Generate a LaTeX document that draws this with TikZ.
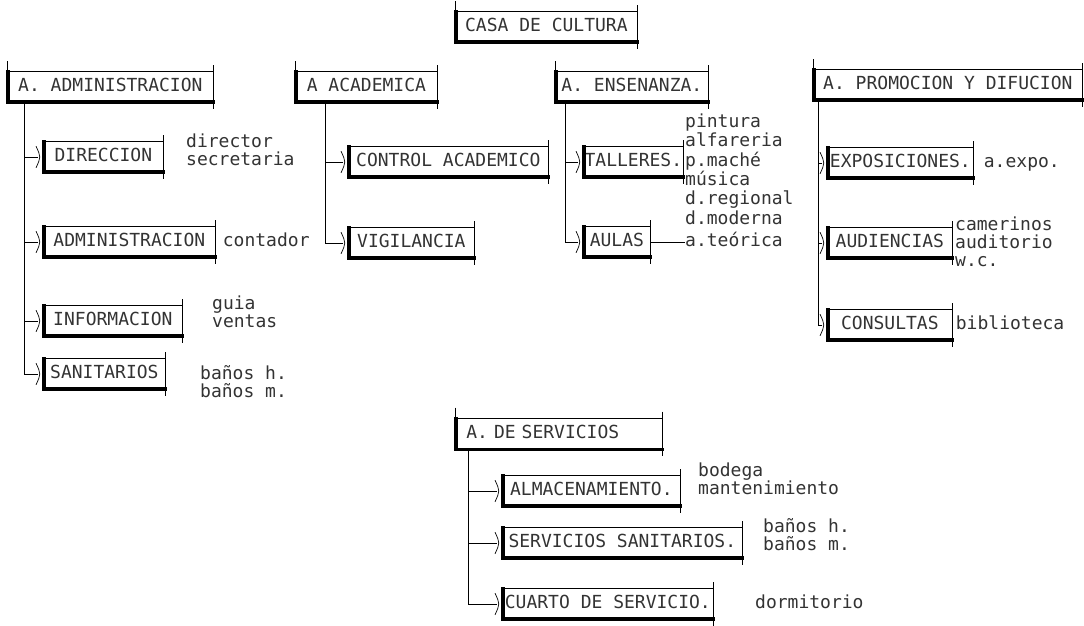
\documentclass[tikz,border=0pt]{standalone}
\usepackage{fontspec}
\newfontfamily\matriz{DejaVu Sans Mono}
\usetikzlibrary{positioning}

\tikzset{
  fino/.style={line width=0.7pt},
  grueso/.style={line width=3.5pt, line cap=rect},
  letra/.style={font=\matriz\fontsize{18}{20}\selectfont, text=black!80, text height=12pt, text depth=3pt},
  caja/.style={draw, fino, letra, anchor=west, minimum height=31pt, inner xsep=0pt},
  lista/.style={letra, anchor=west, inner sep=0pt},
}

\begin{document}
\begin{tikzpicture}[x=1pt, y=-1pt]
\useasboundingbox (0,0) rectangle (1084,626);

% areas
\node[caja, minimum width=182pt] (casa) at (455,27) {CASA DE CULTURA};
\node[caja, minimum width=206pt] (adm) at (7,87) {A. ADMINISTRACION};
\node[caja, minimum width=142pt] (aca) at (295,87) {A ACADEMICA};
\node[caja, minimum width=153pt] (ens) at (555,87) {A. ENSENANZA.};
\node[caja, minimum width=269pt] (pro) at (813,85) {A. PROMOCION Y DIFUCION};
\node[caja, minimum height=32pt, text width=185pt, align=left, inner xsep=11pt] (ser) at (455,434) {A. DE SERVICIOS};

% administracion
\node[caja, minimum width=120pt] (dir) at (43,157) {DIRECCION};
\node[caja, minimum width=172pt] (admi) at (43,242) {ADMINISTRACION};
\node[caja, minimum width=139pt] (inf) at (43,321) {INFORMACION};
\node[caja, minimum width=122pt] (san) at (43,374) {SANITARIOS};
\node[lista] (l-dir) at (186,143) {director};
\node[lista] (l-sec) at (186,161) {secretaria};
\node[lista, right=7pt of admi] (l-con) {contador};
\node[lista] (l-gui) at (212,305) {guia};
\node[lista] (l-ven) at (212,323) {ventas};
\node[lista] (l-bh) at (200,375) {baños h.};
\node[lista] (l-bm) at (200,393) {baños m.};

% academica
\node[caja, minimum width=200pt] (ctrl) at (348,162) {CONTROL ACADEMICO};
\node[caja, minimum width=126pt] (vig) at (348,243) {VIGILANCIA};

% ensenanza
\node[caja, minimum width=100pt] (tal) at (583,162) {TALLERES.};
\node[caja, minimum width=67pt] (aul) at (583,242) {AULAS};
\node[lista] (l-pin) at (685,123) {pintura};
\node[lista] (l-alf) at (685,142) {alfareria};
\node[lista] (l-pma) at (685,162) {p.maché};
\node[lista] (l-mus) at (685,181) {música};
\node[lista] (l-dre) at (685,200) {d.regional};
\node[lista] (l-dmo) at (685,220) {d.moderna};
\node[lista] (l-ate) at (685,242) {a.teórica};

% promocion
\node[caja, minimum width=146pt] (expo) at (827,163) {EXPOSICIONES.};
\node[caja, minimum width=125pt] (aud) at (827,243) {AUDIENCIAS};
\node[caja, minimum width=125pt] (cons) at (827,325) {CONSULTAS};
\node[lista, right=10pt of expo] (l-exp) {a.expo.};
\node[lista] (l-cam) at (955,226) {camerinos};
\node[lista] (l-aud) at (955,244) {auditorio};
\node[lista] (l-wc) at (955,262) {w.c.};
\node[lista, right=3pt of cons] (l-bib) {biblioteca};

% servicios
\node[caja, minimum width=178pt] (alm) at (502,491) {ALMACENAMIENTO.};
\node[caja, minimum width=240pt] (sanit) at (502,543) {SERVICIOS SANITARIOS.};
\node[caja, minimum width=211pt] (cuarto) at (502,604) {CUARTO DE SERVICIO.};
\node[lista] (l-bod) at (698,472) {bodega};
\node[lista] (l-man) at (698,490) {mantenimiento};
\node[lista] (l-sbh) at (763,528) {baños h.};
\node[lista] (l-sbm) at (763,546) {baños m.};
\node[lista] (l-dor) at (755,604) {dormitorio};

% bordes gruesos y marcas
\foreach \n in {casa,adm,aca,ens,pro,ser,dir,admi,inf,san,ctrl,vig,tal,aul,expo,aud,cons,alm,sanit,cuarto}{
  \draw[grueso] ([xshift=1pt,yshift=-1pt]\n.north west) -- ([xshift=1pt,yshift=1pt]\n.south west) -- ([yshift=1pt]\n.south east);
  \draw[fino] ([yshift=6pt]\n.north east) -- ([yshift=-6pt]\n.south east);
}
\foreach \n in {casa,adm,aca,ens,pro,ser}
  \draw[fino] ([yshift=10pt]\n.north west) -- (\n.north west);
\foreach \n in {dir,admi,inf,san,ctrl,vig,tal,aul,expo,aud,cons,alm,sanit,cuarto}
  \draw[fino] ([xshift=-7pt,yshift=-5pt]\n.north west) .. controls ([xshift=-2pt]\n.west) .. ([xshift=-7pt,yshift=5pt]\n.south west);

% troncos
\coordinate (t-adm) at ([xshift=17pt]adm.south west);
\coordinate (t-aca) at ([xshift=30pt]aca.south west);
\coordinate (t-ens) at ([xshift=10pt]ens.south west);
\coordinate (t-pro) at ([xshift=5pt]pro.south west);
\coordinate (t-ser) at ([xshift=13pt]ser.south west);
\draw[fino] (t-adm) -- (t-adm |- san.west);
\draw[fino] (t-aca) -- (t-aca |- vig.west);
\draw[fino] (t-ens) -- (t-ens |- aul.west);
\draw[fino] (t-pro) -- (t-pro |- cons.west);
\draw[fino] (t-ser) -- (t-ser |- cuarto.west);
\foreach \t/\h in {adm/dir,adm/admi,adm/inf,adm/san,aca/ctrl,aca/vig,ens/tal,ens/aul,pro/expo,pro/aud,pro/cons,ser/alm,ser/sanit,ser/cuarto}
  \draw[fino] (t-\t |- \h.west) -- ([xshift=-5pt]\h.west);
\draw[fino] (aul.east) -- (l-ate.west);
\end{tikzpicture}
\end{document}
